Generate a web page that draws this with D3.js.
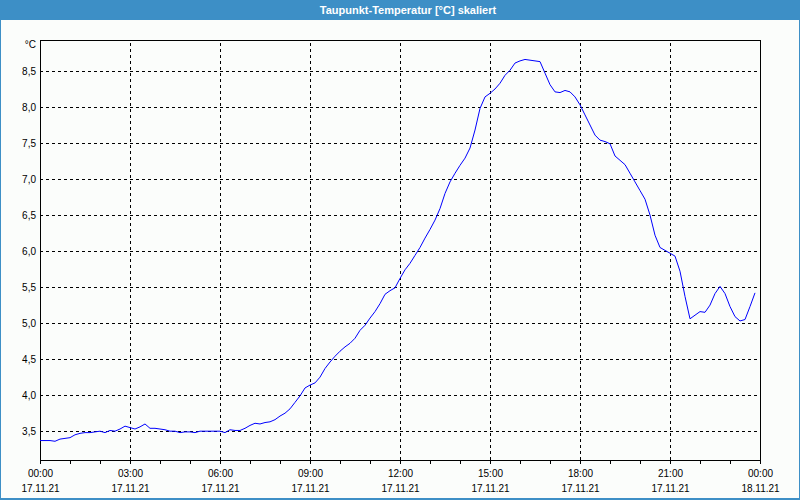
<!DOCTYPE html>
<html>
<head>
<meta charset="utf-8">
<script src="https://cdn.jsdelivr.net/npm/d3@7"></script>
<style>
  html, body { margin: 0; padding: 0; background: #fbfdfb; }
  svg { display: block; font-family: "Liberation Sans", Arial, sans-serif; }
</style>
</head>
<body>
<div class="chart"></div>
<script>
var svgWidth = 800;
var svgHeight = 500;

var margin = { top: 40, right: 40, bottom: 40, left: 40 };
var width = svgWidth - margin.left - margin.right;
var height = svgHeight - margin.top - margin.bottom;

var chartTitle = "Taupunkt-Temperatur [°C] skaliert";
var unitLabel = "°C";
var dayStart = "2021-11-17 00:00";
var dayEnd = "2021-11-18 00:00";
var yDomain = [3.1, 8.93];
var yTickValues = [3.5, 4.0, 4.5, 5.0, 5.5, 6.0, 6.5, 7.0, 7.5, 8.0, 8.5];

// sample times (17.11.21), one every 10 minutes
var times = [
  "00:00","00:10","00:20","00:30","00:40","00:50","01:00","01:10","01:20","01:30","01:40","01:50",
  "02:00","02:10","02:20","02:30","02:40","02:50","03:00","03:10","03:20","03:30","03:40","03:50",
  "04:00","04:10","04:20","04:30","04:40","04:50","05:00","05:10","05:20","05:30","05:40","05:50",
  "06:00","06:10","06:20","06:30","06:40","06:50","07:00","07:10","07:20","07:30","07:40","07:50",
  "08:00","08:10","08:20","08:30","08:40","08:50","09:00","09:10","09:20","09:30","09:40","09:50",
  "10:00","10:10","10:20","10:30","10:40","10:50","11:00","11:10","11:20","11:30","11:40","11:50",
  "12:00","12:10","12:20","12:30","12:40","12:50","13:00","13:10","13:20","13:30","13:40","13:50",
  "14:00","14:10","14:20","14:30","14:40","14:50","15:00","15:10","15:20","15:30","15:40","15:50",
  "16:00","16:10","16:20","16:30","16:40","16:50","17:00","17:10","17:20","17:30","17:40","17:50",
  "18:00","18:10","18:20","18:30","18:40","18:50","19:00","19:10","19:20","19:30","19:40","19:50",
  "20:00","20:10","20:20","20:30","20:40","20:50","21:00","21:10","21:20","21:30","21:40","21:50",
  "22:00","22:10","22:20","22:30","22:40","22:50","23:00","23:10","23:20","23:30","23:40","23:50"
];

// dew point in °C
var dewPoint = [
  3.37,3.37,3.37,3.36,3.39,3.40,3.41,3.45,3.47,3.48,3.48,3.49,
  3.50,3.48,3.51,3.50,3.53,3.57,3.55,3.53,3.56,3.60,3.54,3.54,
  3.53,3.52,3.50,3.50,3.48,3.49,3.49,3.48,3.50,3.50,3.50,3.50,
  3.50,3.48,3.52,3.51,3.51,3.54,3.58,3.61,3.60,3.62,3.63,3.66,
  3.71,3.75,3.81,3.90,3.99,4.10,4.14,4.17,4.25,4.37,4.46,4.54,
  4.61,4.67,4.72,4.79,4.90,4.97,5.07,5.16,5.27,5.40,5.45,5.49,
  5.62,5.74,5.83,5.94,6.05,6.18,6.30,6.43,6.59,6.80,6.96,7.08,
  7.19,7.29,7.43,7.68,7.98,8.14,8.19,8.25,8.33,8.44,8.51,8.61,
  8.64,8.66,8.65,8.64,8.63,8.47,8.31,8.21,8.20,8.23,8.21,8.14,
  8.03,7.89,7.75,7.61,7.54,7.52,7.49,7.32,7.26,7.20,7.08,6.96,
  6.84,6.72,6.50,6.22,6.05,6.01,5.97,5.93,5.72,5.37,5.06,5.11,
  5.16,5.15,5.25,5.41,5.51,5.41,5.23,5.09,5.03,5.05,5.23,5.42
];

var parseTime = d3.timeParse("%Y-%m-%d %H:%M");
var de = d3.formatLocale({ decimal: ",", thousands: ".", grouping: [3], currency: ["", " €"] });
var fmtY = de.format(".1f");

var data = times.map(function (t, i) {
  return { date: parseTime("2021-11-17 " + t), value: dewPoint[i] };
});

var svg = d3.select(".chart")
  .append("svg")
  .attr("width", svgWidth)
  .attr("height", svgHeight);

// window frame + title bar
svg.append("rect")
  .attr("x", 0.5).attr("y", 0.5)
  .attr("width", svgWidth - 1).attr("height", svgHeight - 1.5)
  .attr("fill", "#fbfdfb")
  .attr("stroke", "#3d8fc6")
  .attr("stroke-width", 1);
svg.append("rect")
  .attr("x", 0).attr("y", svgHeight - 2)
  .attr("width", svgWidth).attr("height", 2)
  .attr("fill", "#3d8fc6");
svg.append("rect")
  .attr("x", 0).attr("y", 0)
  .attr("width", svgWidth).attr("height", 20)
  .attr("fill", "#3d8fc6");
svg.append("text")
  .attr("x", 408).attr("y", 14)
  .attr("text-anchor", "middle")
  .attr("fill", "#ffffff")
  .attr("font-size", "11px")
  .attr("font-weight", "bold")
  .text(chartTitle);

var chartGroup = svg.append("g")
  .attr("transform", `translate(${margin.left}, ${margin.top})`);

var xScale = d3.scaleTime()
  .domain([parseTime(dayStart), parseTime(dayEnd)])
  .range([0, width]);

var yScale = d3.scaleLinear()
  .domain(yDomain)
  .range([height, 0]);

// grid lines (dashed)
var xGrid = chartGroup.append("g")
  .attr("class", "grid")
  .attr("transform", `translate(0, ${height})`)
  .call(d3.axisBottom(xScale).ticks(d3.timeHour.every(3)).tickSize(-height).tickFormat(""));
var yGrid = chartGroup.append("g")
  .attr("class", "grid")
  .call(d3.axisLeft(yScale).tickValues(yTickValues).tickSize(-width).tickFormat(""));
chartGroup.selectAll(".grid .domain").remove();
chartGroup.selectAll(".grid line")
  .attr("stroke", "#000")
  .attr("stroke-dasharray", "3,3")
  .attr("shape-rendering", "crispEdges");

// frame
chartGroup.append("rect")
  .attr("x", 0).attr("y", 0)
  .attr("width", width).attr("height", height)
  .attr("fill", "none")
  .attr("stroke", "#000")
  .attr("shape-rendering", "crispEdges");

// hourly ticks under the x axis
var xAxis = chartGroup.append("g")
  .attr("transform", `translate(0, ${height})`)
  .call(d3.axisBottom(xScale).ticks(d3.timeHour.every(1)).tickSizeInner(4).tickSizeOuter(0).tickFormat(""));
xAxis.selectAll("line, path").attr("stroke", "#000").attr("shape-rendering", "crispEdges");

// x labels: time + date
var xLabels = chartGroup.append("g")
  .attr("transform", `translate(0, ${height})`)
  .call(d3.axisBottom(xScale).ticks(d3.timeHour.every(3)).tickSize(0).tickFormat(""));
xLabels.select(".domain").remove();
xLabels.selectAll(".tick").each(function (d) {
  var t = d3.select(this).append("text")
    .attr("fill", "#000")
    .attr("font-size", "10px")
    .attr("text-anchor", "middle");
  t.append("tspan").attr("x", 0).attr("y", 17).text(d3.timeFormat("%H:%M")(d));
  t.append("tspan").attr("x", 0).attr("y", 32).text(d3.timeFormat("%d.%m.%y")(d));
});

// y labels
var yAxis = chartGroup.append("g")
  .call(d3.axisLeft(yScale).tickValues(yTickValues).tickSize(0).tickPadding(4).tickFormat(fmtY));
yAxis.select(".domain").remove();
yAxis.selectAll("text")
  .attr("fill", "#000")
  .attr("font-size", "10px")
  .attr("font-family", "'Liberation Sans', Arial, sans-serif");

chartGroup.append("text")
  .attr("x", -4).attr("y", 8)
  .attr("text-anchor", "end")
  .attr("font-size", "10px")
  .attr("fill", "#000")
  .text(unitLabel);

// dew point line
var line = d3.line()
  .x(d => xScale(d.date))
  .y(d => yScale(d.value));

chartGroup.append("path")
  .datum(data)
  .attr("fill", "none")
  .attr("stroke", "#0000ff")
  .attr("stroke-width", 1)
  .attr("d", line);
</script>
</body>
</html>
